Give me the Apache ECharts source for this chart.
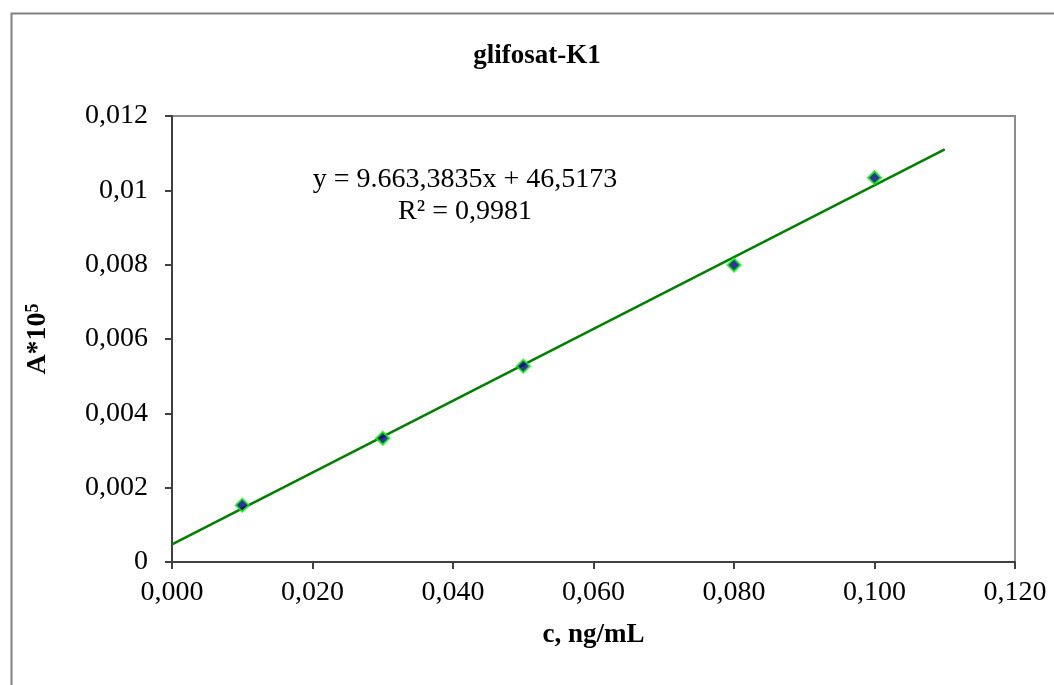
<!DOCTYPE html>
<html>
<head>
<meta charset="utf-8">
<script src="https://cdn.jsdelivr.net/npm/echarts@6/dist/echarts.min.js"></script>
<style>
html,body{margin:0;padding:0;background:#fff;}
#chart{width:1054px;height:685px;}
</style>
</head>
<body>
<div id="chart"></div>
<script>
// Data
const concentrations = [0.010, 0.030, 0.050, 0.080, 0.100];
const absorbances = [0.00153, 0.00333, 0.00527, 0.00799, 0.01034];
// Trend line end points
const trendX = [0.000, 0.110];
const trendY = [0.000475, 0.01110];
const xTickLabels = ['0,000','0,020','0,040','0,060','0,080','0,100','0,120'];
const yTickLabels = ['0','0,002','0,004','0,006','0,008','0,01','0,012'];
const titleText = 'glifosat-K1';
const equationText = 'y = 9.663,3835x + 46,5173';
const r2Text = 'R² = 0,9981';

const FONT = '"Liberation Serif", "Times New Roman", serif';
const chart = echarts.init(document.getElementById('chart'));
const scatterData = concentrations.map((c, i) => [c, absorbances[i]]);
const trendData = trendX.map((x, i) => [x, trendY[i]]);

chart.setOption({
  animation: false,
  backgroundColor: '#fff',
  grid: {left: 172, right: 39, top: 116, bottom: 123, show: true, borderColor: '#8c8c8c', borderWidth: 2, backgroundColor: '#fff'},
  graphic: [
    {type: 'rect', left: 9, top: 11, shape: {width: 1100, height: 700}, style: {fill: null, stroke: '#808080', lineWidth: 2}, silent: true, z: -1},
    {type: 'text', x: 537, y: 56, style: {text: titleText, font: 'bold 27px ' + FONT, fill: '#000', textAlign: 'center', textVerticalAlign: 'middle'}},
    {type: 'text', x: 465, y: 180, style: {text: equationText, font: '28px ' + FONT, fill: '#000', textAlign: 'center', textVerticalAlign: 'middle'}},
    {type: 'text', x: 465, y: 212, style: {text: r2Text, font: '28px ' + FONT, fill: '#000', textAlign: 'center', textVerticalAlign: 'middle'}}
  ],
  xAxis: {
    type: 'value', min: 0, max: 0.12, interval: 0.02,
    name: 'c, ng/mL', nameLocation: 'middle', nameGap: 60,
    nameTextStyle: {fontFamily: FONT, fontSize: 27, fontWeight: 'bold', color: '#000'},
    axisLine: {show: true, lineStyle: {color: '#404040', width: 2}},
    axisTick: {show: true, length: 7, lineStyle: {color: '#404040', width: 2}},
    axisLabel: {margin: 17, fontFamily: FONT, fontSize: 28, color: '#000',
      formatter: v => xTickLabels[Math.round(v / 0.02)]},
    splitLine: {show: false}
  },
  yAxis: {
    type: 'value', min: 0, max: 0.012, interval: 0.002,
    name: 'A*10{sup|5}', nameLocation: 'middle', nameGap: 120, nameRotate: 90,
    nameTextStyle: {fontFamily: FONT, fontSize: 28, fontWeight: 'bold', color: '#000',
      rich: {sup: {fontFamily: FONT, fontSize: 18, fontWeight: 'bold', color: '#000', verticalAlign: 'top', padding: [0,0,10,0]}}},
    axisLine: {show: true, lineStyle: {color: '#404040', width: 2}},
    axisTick: {show: true, length: 7, lineStyle: {color: '#404040', width: 2}},
    axisLabel: {margin: 24, fontFamily: FONT, fontSize: 28, color: '#000',
      formatter: v => yTickLabels[Math.round(v / 0.002)]},
    splitLine: {show: false}
  },
  series: [
    {type: 'line', data: trendData, symbol: 'none', lineStyle: {color: '#008000', width: 2.5}, z: 2, silent: true},
    {type: 'scatter', data: scatterData, symbol: 'diamond', symbolSize: 13,
      itemStyle: {color: '#000080', borderColor: '#00ff00', borderWidth: 2}, z: 3}
  ]
});
</script>
</body>
</html>
